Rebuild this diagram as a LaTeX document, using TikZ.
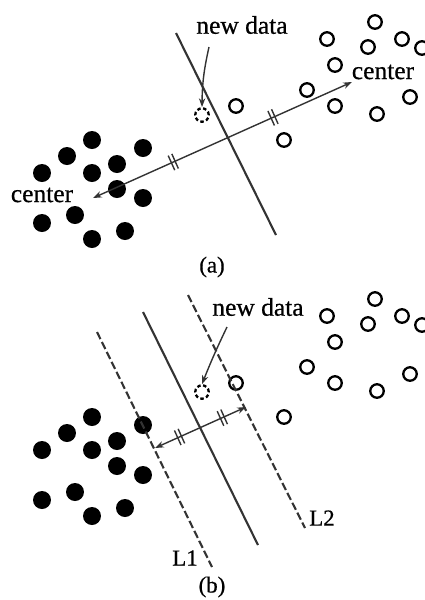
\documentclass[tikz,border=0pt]{standalone}
\usepackage{fontspec}
\setmainfont{Liberation Serif}
\newfontfamily\schrift{Liberation Serif}[FakeBold=0.6]
\usetikzlibrary{arrows.meta}
\usetikzlibrary{decorations.markings}
\definecolor{dunkelgrau}{rgb}{0.2,0.2,0.2}

\tikzset{
  voll/.style={circle, fill=black, inner sep=0pt, minimum size=0.36cm},
  leer/.style={circle, draw=black, line width=1.3pt, inner sep=0pt, minimum size=0.27cm},
  neu/.style={leer, dashed, dash pattern=on 2pt off 1.4pt},
  grenze/.style={dunkelgrau, line width=1.2pt},
  rand/.style={grenze, dash pattern=on 4.5pt off 1.8pt},
  pfeil/.style={dunkelgrau, line width=0.8pt},
  strich/.style={postaction={decorate, decoration={markings, mark=at position #1 with {\draw[-, dunkelgrau, line width=0.8pt] (-2,-8) -- (-2,8) (2,-8) -- (2,8);}}}},
  beschr/.style={font=\schrift\fontsize{14.5}{17}\selectfont, inner sep=0pt},
  klein/.style={font=\schrift\fontsize{13}{15}\selectfont, inner sep=0pt}
}

\begin{document}
\begin{tikzpicture}[x=0.02cm, y=-0.02cm, >={Stealth[length=5pt, width=3.6pt]}] % 1 Einheit = 1 Pixel, y nach unten
\useasboundingbox (0,0) rectangle (425,600);

% Datenpunkte in beiden Bildern, Bild (b) um 277 nach unten verschoben
\foreach \p/\dy in {a/0, b/277} {
  \foreach \x/\y [count=\i] in {92/140, 143/148, 67/156, 117/164, 42/173, 92/173, 117/189, 143/198, 75/215, 42/223, 125/231, 92/239}
    \node[voll] (\p-voll-\i) at (\x,\y+\dy) {}; % Klasse 1
  \foreach \x/\y [count=\i] in {375/22, 327/39, 402/39, 368/47, 422/48, 335/65, 307/90, 410/97, 335/106, 236/106, 377/114, 284/140}
    \node[leer] (\p-leer-\i) at (\x,\y+\dy) {}; % Klasse 2
  \node[neu] (\p-neu) at (202,115+\dy) {}; % neuer Punkt
}

% Bild (a)
\coordinate (ga1) at (176,33);
\coordinate (ga2) at (276,235);
\draw[grenze] (ga1) -- (ga2); % Trennlinie

\node[beschr] (za-links) at (42,195) {center};
\node[beschr] (za-rechts) at (383,72) {center};
\coordinate (pa1) at (93,198);
\coordinate (pa2) at (352,82);
\draw[pfeil, <->, strich=0.31, strich=0.695] (pa1) -- (pa2);

\node[beschr] (nd-a) at (242,25) {new data};
\coordinate (nd-a-start) at (209,47);
\draw[pfeil, ->] (nd-a-start) to[bend right=6] (a-neu.north);

\node[klein] (titel-a) at (212,267) {(a)};

% Bild (b)
\coordinate (gb1) at (143,312);
\coordinate (gb2) at (258,545);
\draw[grenze] (gb1) -- (gb2); % Trennlinie
\coordinate (l1a) at (97,332);
\coordinate (l1b) at (212,567);
\draw[rand] (l1a) -- (l1b); % Rand L1
\coordinate (l2a) at (188,295);
\coordinate (l2b) at (305,528);
\draw[rand] (l2a) -- (l2b); % Rand L2

\coordinate (pb1) at (155,448);
\coordinate (pb2) at (246,407);
\draw[pfeil, <->, strich=0.27, strich=0.74] (pb1) -- (pb2);

\node[beschr] (nd-b) at (258,307) {new data};
\coordinate (nd-b-start) at (227,327);
\draw[pfeil, ->] (nd-b-start) to[bend right=2] (b-neu.north);

\node[klein] (name-l1) at (185,558) {L1};
\node[klein] (name-l2) at (322,518) {L2};
\node[klein] (titel-b) at (212,587) {(b)};

\end{tikzpicture}
\end{document}
